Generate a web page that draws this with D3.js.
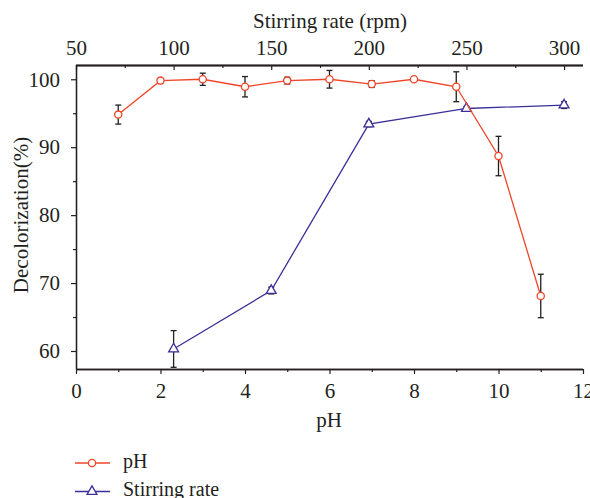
<!DOCTYPE html>
<html>
<head>
<meta charset="utf-8">
<script src="https://cdn.jsdelivr.net/npm/d3@7"></script>
<style>
  html, body { margin: 0; padding: 0; background: #fff; }
  svg { display: block; }
  svg text { font-family: "Liberation Serif", "DejaVu Serif", serif !important; fill: #231f20; }
</style>
</head>
<body>
<svg id="chart" width="590" height="498"></svg>
<script>
// pH series: decolorization (%) with standard deviation
const phValues = [1, 2, 3, 4, 5, 6, 7, 8, 9, 10, 11];
const phDecol  = [94.8, 99.8, 100.0, 98.9, 99.8, 100.0, 99.3, 100.0, 98.9, 88.7, 68.1];
const phErr    = [1.4, 0.3, 0.9, 1.5, 0.5, 1.3, 0.5, 0.3, 2.2, 2.9, 3.2];

// Stirring-rate series: decolorization (%) with standard deviation
const rpmValues = [100, 150, 200, 250, 300];
const rpmDecol  = [60.3, 68.9, 93.4, 95.7, 96.2];
const rpmErr    = [2.7, 0.5, 0.4, 0.3, 0.5];

const phTicks  = [0, 2, 4, 6, 8, 10, 12];
const rpmTicks = [50, 100, 150, 200, 250, 300];
const yTicks   = [60, 70, 80, 90, 100];

const RED = "#ef4528", BLUE = "#3a2f98", INK = "#231f20";

const svg = d3.select("#chart");
const L = 76, R = 583, T = 65, B = 369;

const xPH  = d3.scaleLinear().domain([0, 12]).range([L, R]);
const xRPM = d3.scaleLinear().domain([50, 309.7]).range([L, R]);
const y    = d3.scaleLinear().domain([57.35, 102.1]).range([B, T]);

const fs = 21;

// bottom axis (pH), ticks outward
const gB = svg.append("g").attr("transform", `translate(0,${B})`);
gB.call(d3.axisBottom(xPH).tickValues(d3.range(1, 12, 2)).tickSize(3).tickFormat(""));
gB.call(g => g.append("g").call(d3.axisBottom(xPH).tickValues(phTicks).tickSize(5).tickPadding(9)));
// top axis (stirring rate), ticks inward
const gT = svg.append("g").attr("transform", `translate(0,${T})`);
gT.call(d3.axisBottom(xRPM).tickValues(d3.range(75, 310, 50)).tickSize(3).tickFormat(""));
gT.call(g => g.append("g").call(d3.axisBottom(xRPM).tickValues(rpmTicks).tickSize(5).tickFormat("")));
gT.call(g => g.append("g").call(d3.axisTop(xRPM).tickValues(rpmTicks).tickSize(0).tickPadding(10)));
// left axis, ticks outward
const gL = svg.append("g").attr("transform", `translate(${L},0)`);
gL.call(d3.axisLeft(y).tickValues([65, 75, 85, 95]).tickSize(3).tickFormat(""));
gL.call(g => g.append("g").call(d3.axisLeft(y).tickValues(yTicks).tickSize(5).tickPadding(11)));

svg.selectAll(".domain").attr("stroke", INK).attr("stroke-width", 1.3);
svg.selectAll(".tick line").attr("stroke", INK).attr("stroke-width", 1.2);
svg.selectAll(".tick text").attr("font-size", fs).attr("fill", INK);
gB.selectAll(".domain").attr("d", `M${L},0.5H${R}`);
gT.selectAll(".domain").attr("d", `M${L},0.5H${R}`);
gL.selectAll(".domain").attr("d", `M0.5,${T}V${B}`);

// axis titles
svg.append("text").attr("x", 330).attr("y", 28).attr("text-anchor", "middle")
  .attr("font-size", fs).text("Stirring rate (rpm)");
svg.append("text").attr("x", 329).attr("y", 427).attr("text-anchor", "middle")
  .attr("font-size", fs).text("pH");
svg.append("text").attr("transform", `translate(28,${(T + B) / 2 - 2}) rotate(-90)`)
  .attr("text-anchor", "middle").attr("font-size", fs).text("Decolorization(%)");

const plot = svg.append("g");

function errorBars(xs, ys, es, xs_scale) {
  const g = plot.append("g").attr("stroke", INK).attr("stroke-width", 1.3).attr("fill", "none");
  xs.forEach((xv, i) => {
    const cx = xs_scale(xv);
    const y1 = y(ys[i] + es[i]), y2 = Math.min(B, y(ys[i] - es[i]));
    g.append("line").attr("x1", cx).attr("x2", cx).attr("y1", y1).attr("y2", y2);
    g.append("line").attr("x1", cx - 3).attr("x2", cx + 3).attr("y1", y1).attr("y2", y1);
    if (y(ys[i] - es[i]) <= B)
      g.append("line").attr("x1", cx - 3).attr("x2", cx + 3).attr("y1", y2).attr("y2", y2);
  });
}

const tri = d3.symbol().type(d3.symbolTriangle).size(42);

// stirring rate series
errorBars(rpmValues, rpmDecol, rpmErr, xRPM);
plot.append("path")
  .datum(rpmValues.map((v, i) => [xRPM(v), y(rpmDecol[i])]))
  .attr("d", d3.line()).attr("fill", "none").attr("stroke", BLUE).attr("stroke-width", 1.3);
plot.append("g").selectAll("path").data(rpmValues).join("path")
  .attr("d", tri)
  .attr("transform", (v, i) => `translate(${xRPM(v)},${y(rpmDecol[i])})`)
  .attr("fill", "#fff").attr("stroke", BLUE).attr("stroke-width", 1.3);

// pH series
errorBars(phValues, phDecol, phErr, xPH);
plot.append("path")
  .datum(phValues.map((v, i) => [xPH(v), y(phDecol[i])]))
  .attr("d", d3.line()).attr("fill", "none").attr("stroke", RED).attr("stroke-width", 1.3);
plot.append("g").selectAll("circle").data(phValues).join("circle")
  .attr("cx", v => xPH(v)).attr("cy", (v, i) => y(phDecol[i])).attr("r", 3.6)
  .attr("fill", "#fff").attr("stroke", RED).attr("stroke-width", 1.3);

// legend
const legend = svg.append("g");
const items = [
  { label: "pH", color: RED, shape: "circle", y: 463 },
  { label: "Stirring rate", color: BLUE, shape: "triangle", y: 491.5 }
];
items.forEach(it => {
  legend.append("line").attr("x1", 75).attr("x2", 110).attr("y1", it.y).attr("y2", it.y)
    .attr("stroke", it.color).attr("stroke-width", 1.3);
  if (it.shape === "circle") {
    legend.append("circle").attr("cx", 92).attr("cy", it.y).attr("r", 3.6)
      .attr("fill", "#fff").attr("stroke", it.color).attr("stroke-width", 1.3);
  } else {
    legend.append("path").attr("d", tri).attr("transform", `translate(92,${it.y})`)
      .attr("fill", "#fff").attr("stroke", it.color).attr("stroke-width", 1.3);
  }
  legend.append("text").attr("x", 123).attr("y", it.y + 4.5).attr("font-size", 20).text(it.label);
});
</script>
</body>
</html>
